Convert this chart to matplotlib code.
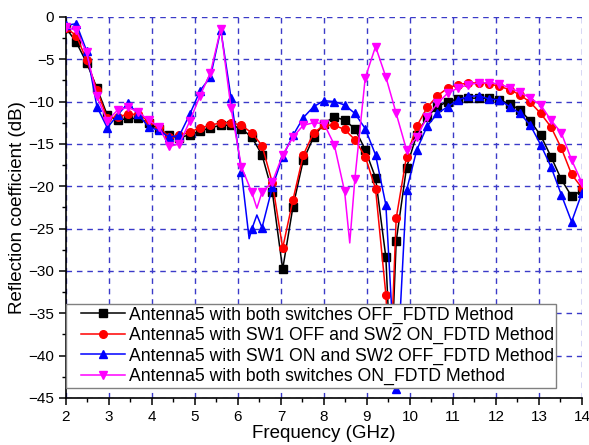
import numpy as np
import matplotlib
matplotlib.use("Agg")
import matplotlib.pyplot as plt
from matplotlib.lines import Line2D
from matplotlib.legend_handler import HandlerLine2D
from matplotlib.ticker import MultipleLocator

plt.rcParams['font.family'] = ['Liberation Sans', 'DejaVu Sans']

# sample frequencies (GHz) where the markers sit
freq = np.round(2.0 + 0.24 * np.arange(51), 2)

both_off = [-1.3, -3.0, -5.4, -8.4, -11.6, -12.2, -12.0, -12.0, -12.5, -13.3,
            -14.0, -14.3, -13.9, -13.5, -13.1, -12.8, -12.8, -13.2, -14.2, -16.3,
            -20.7, -29.8, -22.4, -16.9, -14.2, -12.6, -11.8, -12.2, -13.2, -15.7,
            -19.0, -28.4, -26.5, -17.8, -13.9, -11.8, -10.6, -10.0, -9.7, -9.6,
            -9.6, -9.6, -9.8, -10.3, -11.0, -12.3, -14.0, -16.5, -19.2, -21.2,
            -20.5]
sw1off_sw2on = [-1.3, -2.2, -5.1, -8.6, -12.0, -11.8, -11.5, -11.5, -12.3, -13.0,
                -14.2, -14.0, -13.6, -13.1, -12.8, -12.5, -12.5, -12.8, -13.7, -15.2,
                -19.6, -27.3, -21.6, -16.3, -13.7, -12.8, -12.8, -13.3, -14.5, -16.5,
                -20.3, -32.8, -23.8, -16.5, -12.9, -10.7, -9.3, -8.4, -8.0, -7.8,
                -7.8, -7.9, -8.2, -8.6, -9.2, -10.1, -11.4, -13.0, -15.5, -18.6,
                -20.2]
sw1on_sw2off = [-1.0, -0.8, -4.0, -10.6, -13.1, -11.6, -10.2, -11.5, -13.0, -13.4,
                -14.2, -14.0, -11.5, -8.7, -7.1, -1.5, -9.6, -18.3, -25.1, -24.9,
                -20.1, -16.5, -14.0, -11.9, -10.6, -9.9, -10.0, -10.4, -11.4, -13.2,
                -16.3, -22.2, -44.0, -20.5, -15.7, -12.9, -11.4, -10.6, -9.8, -9.4,
                -9.3, -9.7, -9.8, -10.6, -11.4, -12.8, -15.1, -17.7, -21.0, -24.2,
                -20.8]
both_on = [-1.2, -1.6, -4.2, -9.4, -12.3, -11.0, -10.7, -11.2, -12.2, -13.0,
           -15.3, -15.0, -12.3, -9.3, -6.6, -1.4, -10.8, -17.7, -20.7, -20.7,
           -19.5, -16.3, -14.2, -12.8, -12.5, -12.6, -15.1, -20.6, -19.1, -7.2,
           -3.5, -7.1, -11.4, -15.7, -14.2, -11.8, -10.2, -9.0, -8.4, -8.0,
           -7.8, -7.8, -7.9, -8.4, -8.9, -9.6, -10.4, -12.2, -13.7, -16.9,
           -19.6]

# extra points between markers (resonance dips)
both_off_dip_f, both_off_dip = [9.56], [-42.0]
sw1off_dip_f, sw1off_dip = [9.54], [-42.0]
sw1on_dip_f, sw1on_dip = [6.26, 6.44], [-26.2, -23.4]
both_on_dip_f, both_on_dip = [6.44, 8.60], [-22.6, -26.7]

labels = ['Antenna5 with both switches OFF_FDTD Method',
          'Antenna5 with SW1 OFF and SW2 ON_FDTD Method',
          'Antenna5 with SW1 ON and SW2 OFF_FDTD Method',
          'Antenna5 with both switches ON_FDTD Method']
colors = ['black', '#ff0000', '#0000ff', '#ff00ff']
markers = ['s', 'o', '^', 'v']

series = [(both_off, both_off_dip_f, both_off_dip),
          (sw1off_sw2on, sw1off_dip_f, sw1off_dip),
          (sw1on_sw2off, sw1on_dip_f, sw1on_dip),
          (both_on, both_on_dip_f, both_on_dip)]

fig = plt.figure(figsize=(5.89, 4.45), dpi=100)
ax = fig.add_axes([0.112, 0.106, 0.876, 0.856])

for (vals, xf, xv), lab, c, m in zip(series, labels, colors, markers):
    f = np.concatenate([freq, xf])
    v = np.concatenate([vals, xv])
    order = np.argsort(f)
    f, v = f[order], v[order]
    marks = list(np.where(np.isin(f, freq))[0])
    ax.plot(f, v, color=c, marker=m, markevery=marks, ms=5.5, lw=1.1,
            label=lab, zorder=3)

ax.set_xlim(2, 14)
ax.set_ylim(-45, 0)
ax.xaxis.set_major_locator(MultipleLocator(1))
ax.xaxis.set_minor_locator(MultipleLocator(0.5))
ax.yaxis.set_major_locator(MultipleLocator(5))
ax.yaxis.set_minor_locator(MultipleLocator(2.5))
ax.grid(True, which='major', color='#3a3ac8', ls=(0, (4, 3.5)), lw=1.0, zorder=1)

for s in ['top', 'right']:
    ax.spines[s].set_visible(False)
for s in ['left', 'bottom']:
    ax.spines[s].set_linewidth(1.2)
ax.tick_params(which='major', direction='out', length=5, width=1.1, labelsize=11)
ax.tick_params(which='minor', direction='out', length=3, width=1.0)

ax.set_xlabel('Frequency (GHz)', fontsize=13.5, labelpad=1)
ax.set_ylabel('Reflection coefficient (dB)', fontsize=13.5, labelpad=2)

# legend sits on top of the curves, handles indented from the frame
leg = ax.legend(loc='lower left', bbox_to_anchor=(0.0, 0.026), fontsize=12.7,
                handlelength=3.2, handletextpad=0.2, labelspacing=0.19,
                borderpad=0.15, borderaxespad=0, fancybox=False, framealpha=1,
                handler_map={Line2D: HandlerLine2D(xpad=0.7)})
frame = leg.get_frame()
frame.set_facecolor('white')
frame.set_edgecolor('#808080')
frame.set_linewidth(1.0)
leg.set_zorder(10)

fig.savefig('out.png', dpi=100)
